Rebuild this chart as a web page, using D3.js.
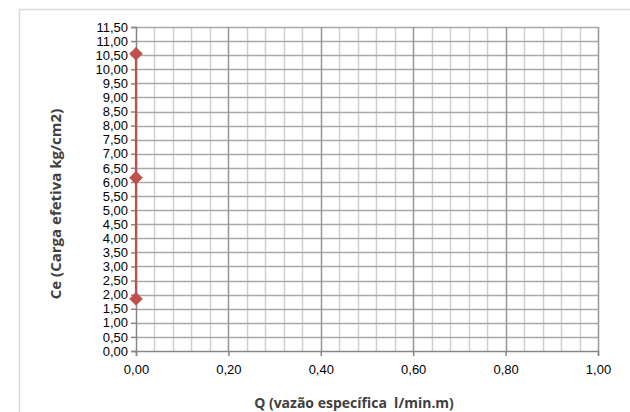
<!DOCTYPE html>
<html>
<head>
<meta charset="utf-8">
<script src="https://cdn.jsdelivr.net/npm/d3@7"></script>
<style>
  html, body { margin: 0; padding: 0; background: #ffffff; }
  svg { display: block; font-family: "Open Sans", "Liberation Sans", sans-serif; }
  .title { white-space: pre; }
</style>
</head>
<body>
<svg id="chart" width="630" height="412"></svg>
<script>
// Specific flow (l/min.m) and effective load (kg/cm2) readings
const flowValues = [0, 0, 0];
const loadValues = [1.85, 6.15, 10.55];

const xTickValues = [0, 0.2, 0.4, 0.6, 0.8, 1.0];
const yTickValues = d3.range(0, 11.5001, 0.5);
const xMinorValues = d3.range(0, 1.0001, 0.04);

const xTitle = "Q (vazão específica  l/min.m)";
const yTitle = "Ce (Carga efetiva kg/cm2)";

const fmt = v => v.toFixed(2).replace(".", ",");

const svg = d3.select("#chart");
const plot = { left: 136, right: 598, top: 27, bottom: 351 };

const x = d3.scaleLinear().domain([0, 1]).range([plot.left, plot.right]);
const y = d3.scaleLinear().domain([0, 11.5]).range([plot.bottom, plot.top]);

// Chart-area frame (continues past the right and bottom edges)
svg.append("rect")
  .attr("x", 19.5).attr("y", 9.5)
  .attr("width", 640).attr("height", 420)
  .attr("fill", "#ffffff")
  .attr("stroke", "#d9d9d9").attr("stroke-width", 1.5);

// Minor vertical gridlines
svg.append("g").selectAll("line")
  .data(xMinorValues.filter(v => Math.abs(v * 5 - Math.round(v * 5)) > 1e-6))
  .join("line")
  .attr("x1", d => Math.round(x(d)) + 0.5).attr("x2", d => Math.round(x(d)) + 0.5)
  .attr("y1", plot.top).attr("y2", plot.bottom)
  .attr("stroke", "#cfcfcf").attr("stroke-width", 1.5);

// Horizontal gridlines
svg.append("g").selectAll("line")
  .data(yTickValues.filter(v => v > 0))
  .join("line")
  .attr("x1", plot.left).attr("x2", plot.right)
  .attr("y1", d => Math.round(y(d)) + 0.5).attr("y2", d => Math.round(y(d)) + 0.5)
  .attr("stroke", "#a9a9a9").attr("stroke-width", 1.5);

// Major vertical gridlines
svg.append("g").selectAll("line")
  .data(xTickValues.filter(v => v > 0))
  .join("line")
  .attr("x1", d => Math.round(x(d)) + 0.5).attr("x2", d => Math.round(x(d)) + 0.5)
  .attr("y1", plot.top).attr("y2", plot.bottom)
  .attr("stroke", "#969696").attr("stroke-width", 1.5);

// Axes
const xAxis = d3.axisBottom(x).tickValues(xTickValues).tickFormat(fmt).tickSize(5).tickPadding(9);
const yAxis = d3.axisLeft(y).tickValues(yTickValues).tickFormat(fmt).tickSize(5).tickPadding(3);

const gx = svg.append("g").attr("transform", `translate(0,${plot.bottom})`).call(xAxis);
const gy = svg.append("g").attr("transform", `translate(${plot.left},0)`).call(yAxis);

[gx, gy].forEach(g => {
  g.select(".domain").attr("stroke", "#868686").attr("stroke-width", 1.5);
  g.selectAll(".tick line").attr("stroke", "#868686").attr("stroke-width", 1.5);
  g.selectAll(".tick text").attr("fill", "#000000")
    .style("font-size", "13px");
});

// Series line and diamond markers
const pts = flowValues.map((f, i) => [f, loadValues[i]]);
svg.append("path")
  .datum(pts)
  .attr("d", d3.line().x(d => x(d[0])).y(d => y(d[1])))
  .attr("fill", "none")
  .attr("stroke", "#c0504d").attr("stroke-width", 2.25);

svg.append("g").selectAll("path")
  .data(pts)
  .join("path")
  .attr("transform", d => `translate(${x(d[0])},${y(d[1])}) rotate(45)`)
  .attr("d", "M-4.5,-4.5H4.5V4.5H-4.5Z")
  .attr("fill", "#c0504d")
  .attr("stroke", "#b84a47").attr("stroke-width", 0.75);

// Axis titles
svg.append("text")
  .attr("class", "title")
  .attr("x", 354).attr("y", 408)
  .attr("text-anchor", "middle")
  .attr("fill", "#404040")
  .style("font-size", "14px").style("font-weight", "bold")
  .text(xTitle);

svg.append("text")
  .attr("class", "title")
  .attr("transform", "translate(61,204) rotate(-90)")
  .attr("text-anchor", "middle")
  .attr("fill", "#404040")
  .style("font-size", "15px").style("font-weight", "bold")
  .text(yTitle);
</script>
</body>
</html>
